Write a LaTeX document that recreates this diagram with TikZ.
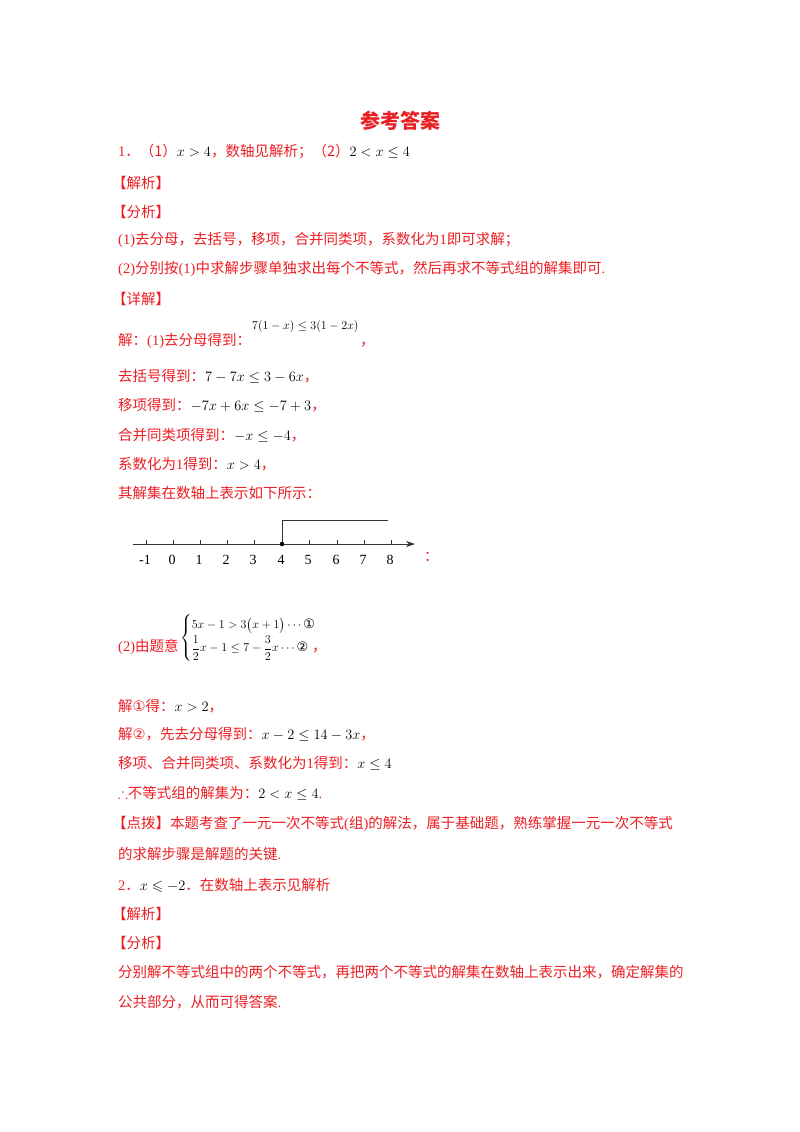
\documentclass[tikz,border=0pt]{standalone}
\usepackage{amsmath,amssymb}
\usepackage{fontspec}
\usetikzlibrary{arrows.meta}
\setmainfont{Liberation Serif}
\newfontfamily\cjk{Noto Sans CJK SC}
\newfontfamily\djv{DejaVu Sans}
\newcommand{\C}[1]{{\cjk #1}}
\definecolor{ansred}{RGB}{235,30,35}
\begin{document}
\begin{tikzpicture}[x=1pt,y=-1pt,
  txt/.style={anchor=base west,inner sep=0pt,text=ansred,font=\fontsize{14.5}{17}\selectfont},
  mth/.style={anchor=base west,inner sep=0pt,text=black,font=\fontsize{13}{15}\selectfont},
  tk/.style={line width=0.8pt,draw=black!80}]
\useasboundingbox (0,0) rectangle (800,1132);
\node[anchor=base,inner sep=0pt,text=ansred,font=\cjk\bfseries\fontsize{20}{24}\selectfont] (title) at (400,128) {参考答案};
\node[txt] (l1) at (118,156) {1\C{．（1）}\textcolor{black}{$x>4$}\C{，数轴见解析；（2）}\textcolor{black}{$2<x\le4$}};
\node[txt] (l2) at (112,188) {\C{【解析】}};
\node[txt] (l3) at (112,217) {\C{【分析】}};
\node[txt] (l4) at (118,244) {(1)\C{去分母，去括号，移项，合并同类项，系数化为}1\C{即可求解；}};
\node[txt] (l5) at (118,273) {(2)\C{分别按}(1)\C{中求解步骤单独求出每个不等式，然后再求不等式组的解集即可}.};
\node[txt] (l6) at (112,304) {\C{【详解】}};
\node[txt] (l7) at (118,345) {\C{解：}(1)\C{去分母得到：}};
\node[mth] (m7) at (252,329) {$7(1-x)\le3(1-2x)$};
\node[txt] (c7) at (360,345) {\C{，}};
\node[txt] (l8) at (118,381) {\C{去括号得到：}\textcolor{black}{$7-7x\le3-6x$}\C{，}};
\node[txt] (l9) at (118,410) {\C{移项得到：}\textcolor{black}{$-7x+6x\le-7+3$}\C{，}};
\node[txt] (l10) at (118,440) {\C{合并同类项得到：}\textcolor{black}{$-x\le-4$}\C{，}};
\node[txt] (l11) at (118,469) {\C{系数化为}1\C{得到：}\textcolor{black}{$x>4$}\C{，}};
\node[txt] (l12) at (118,498) {\C{其解集在数轴上表示如下所示：}};
% number line
\coordinate (a0) at (133,544);
\coordinate (a1) at (415,544);
\draw[tk,-{Stealth[length=9pt,width=6pt]}] (a0) -- (a1);
\foreach \v/\px/\lab in {-1/146/-1,0/173/0,1/200/1,2/227/2,3/254/3,4/282/4,5/309/5,6/337/6,7/364/7,8/391/8}{
  \draw[tk] (\px,544) -- (\px,540);
  \node[anchor=base,inner sep=0pt,font=\fontsize{14}{16}\selectfont] (n\v) at (\px-1,564) {\lab};
}
\coordinate (p4) at (282,544);
\coordinate (q4) at (282,520);
\coordinate (q8) at (388,520);
\draw[tk,line width=1pt] (p4) -- (q4) -- (q8);
\fill (p4) circle (2.2pt);
\node[txt] (colon) at (424,561) {\C{：}};
% system
\node[txt] (s0) at (118,651) {(2)\C{由题意}};
\node[mth,anchor=west] (sys) at (180,638) {$\begin{cases}5x-1>3\bigl(x+1\bigr)\cdots\text{\djv ①}\\[2pt] \dfrac12x-1\le7-\dfrac32x\cdots\text{\djv ②}\end{cases}$};
\node[txt] (sc) at (312,651) {\C{，}};
\node[txt] (l13) at (118,711) {\C{解}{\djv ①}\C{得：}\textcolor{black}{$x>2$}\C{，}};
\node[txt] (l14) at (118,739) {\C{解}{\djv ②}\C{，先去分母得到：}\textcolor{black}{$x-2\le14-3x$}\C{，}};
\node[txt] (l15) at (118,768) {\C{移项、合并同类项、系数化为}1\C{得到：}\textcolor{black}{$x\le4$}};
\node[txt] (l16) at (118,798) {$\therefore$\C{不等式组的解集为：}\textcolor{black}{$2<x\le4$}.};
\node[txt] (l17) at (112,828) {\C{【点拨】本题考查了一元一次不等式}(\C{组})\C{的解法，属于基础题，熟练掌握一元一次不等式}};
\node[txt] (l18) at (118,859) {\C{的求解步骤是解题的关键}.};
\node[txt] (l19) at (118,890) {2\C{．}\textcolor{black}{$x\leqslant-2$}\C{．在数轴上表示见解析}};
\node[txt] (l20) at (112,919) {\C{【解析】}};
\node[txt] (l21) at (112,948) {\C{【分析】}};
\node[txt] (l22) at (118,977) {\C{分别解不等式组中的两个不等式，再把两个不等式的解集在数轴上表示出来，确定解集的}};
\node[txt] (l23) at (118,1007) {\C{公共部分，从而可得答案}.};
\end{tikzpicture}
\end{document}
